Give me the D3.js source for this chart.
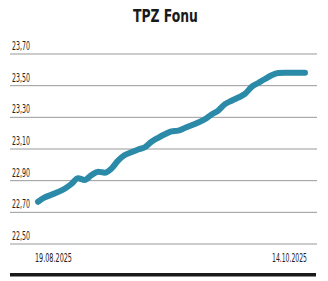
<!DOCTYPE html>
<html><head><meta charset="utf-8">
<script src="https://cdn.jsdelivr.net/npm/d3@7"></script>
<style>
body{margin:0;background:#fff;}
text{font-family:"DejaVu Sans Condensed","Liberation Sans Narrow","Roboto",sans-serif;}
</style></head><body>
<svg id="c" width="328" height="281"></svg>
<script>
const title = "TPZ Fonu";
const yTicks = [22.5, 22.7, 22.9, 23.1, 23.3, 23.5, 23.7];
const xLabels = ["19.08.2025", "14.10.2025"];
const values = [22.767,22.794,22.811,22.828,22.849,22.879,22.915,22.905,22.935,22.957,
22.950,22.976,23.027,23.062,23.080,23.097,23.111,23.146,23.171,23.193,
23.211,23.216,23.233,23.250,23.268,23.288,23.318,23.343,23.383,23.405,
23.425,23.448,23.492,23.517,23.542,23.566,23.580,23.582,23.582,23.582,23.582];

const svg = d3.select("#c");
const x = d3.scaleLinear().domain([0, values.length-1]).range([38, 305]);
const y = d3.scaleLinear().domain([22.5, 23.7]).range([244, 54]);
const fmt = v => v.toFixed(2).replace(".", ",");

// narrow text: draw at (px,py), squeezed horizontally to width w
function narrow(parent, str, px, py, size, w, weight) {
  const gg = parent.append("g");
  const t = gg.append("text").attr("x",0).attr("y",0).attr("font-size",size)
    .attr("font-weight",weight||"normal").attr("fill", weight ? "#1a1a1a" : "#222").text(str);
  const nat = t.node().getComputedTextLength();
  gg.attr("transform", `translate(${px},${py}) scale(${w/nat},1)`);
  return gg;
}

narrow(svg, title, 133, 22, 18, 65, "bold");

const g = svg.append("g");
yTicks.forEach(t => {
  g.append("line").attr("x1",10).attr("x2",317).attr("y1",y(t)).attr("y2",y(t))
    .attr("stroke","#999").attr("stroke-width",1);
  narrow(g, fmt(t), 12, y(t)-4, 11.5, 18);
});

svg.append("path").datum(values)
  .attr("d", d3.line().x((d,i)=>x(i)).y(d=>y(d)).curve(d3.curveMonotoneX))
  .attr("fill","none").attr("stroke","#2a8aa8").attr("stroke-width",6)
  .attr("stroke-linecap","round").attr("stroke-linejoin","round");

narrow(svg, xLabels[0], 35, 262, 12, 37);
narrow(svg, xLabels[1], 272, 262, 12, 35);

svg.append("rect").attr("x",10).attr("y",273).attr("width",306).attr("height",3.5).attr("fill","#1a1a1a");
</script></body></html>
